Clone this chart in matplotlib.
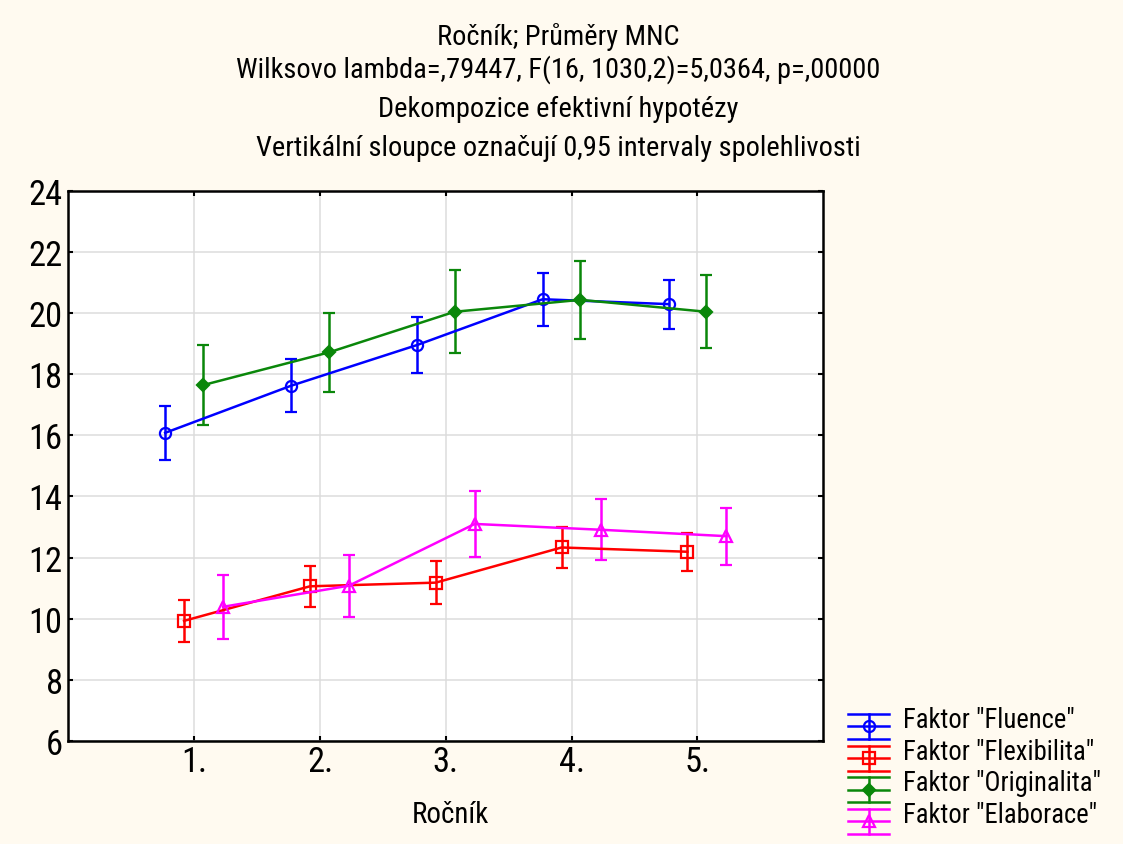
import matplotlib
matplotlib.use("Agg")
import matplotlib.pyplot as plt
from matplotlib import font_manager
from matplotlib.lines import Line2D
import numpy as np

# ---------------- data ----------------
years = [1, 2, 3, 4, 5]
year_labels = ["1.", "2.", "3.", "4.", "5."]

series_names = ['Faktor "Fluence"', 'Faktor "Flexibilita"',
                'Faktor "Originalita"', 'Faktor "Elaborace"']

fluence_mean = [16.08, 17.62, 18.95, 20.45, 20.29]
fluence_ci = [0.89, 0.87, 0.92, 0.86, 0.80]

flexibilita_mean = [9.93, 11.06, 11.18, 12.33, 12.19]
flexibilita_ci = [0.68, 0.67, 0.71, 0.67, 0.62]

originalita_mean = [17.64, 18.71, 20.04, 20.43, 20.04]
originalita_ci = [1.32, 1.28, 1.35, 1.27, 1.19]

elaborace_mean = [10.39, 11.08, 13.10, 12.91, 12.70]
elaborace_ci = [1.05, 1.02, 1.07, 1.00, 0.93]

title_lines = [
    "Ročník; Průměry MNC",
    "Wilksovo lambda=,79447, F(16, 1030,2)=5,0364, p=,00000",
    "Dekompozice efektivní hypotézy",
    "Vertikální sloupce označují 0,95 intervaly spolehlivosti",
]
x_label = "Ročník"
y_ticks = [6, 8, 10, 12, 14, 16, 18, 20, 22, 24]

# ---------------- font choice (narrowest available sans) ----------------
W, H, DPI = 1123, 845, 100
PX = DPI / 72.0


def find_font():
    fl = font_manager.fontManager.ttflist
    def regular(f):
        return str(f.weight).lower() in ("400", "normal", "regular", "book") and f.style == "normal"
    def cond(f):
        st = str(f.stretch).lower()
        return st in ("condensed", "semi-condensed") or (st.isdigit() and 300 <= int(st) < 500)
    for f in fl:
        if f.name == "Liberation Sans Narrow" and regular(f):
            return f.name, "normal"
    for f in fl:
        if f.name in ("Roboto Condensed", "Open Sans Condensed", "Noto Sans Condensed",
                      "DejaVu Sans Condensed") and regular(f):
            return f.name, "normal"
    for nm in ("DejaVu Sans", "Roboto", "Noto Sans", "Open Sans"):
        for f in fl:
            if f.name == nm and regular(f) and cond(f):
                return nm, str(f.stretch)
    return "Liberation Sans", "normal"


FONT, STRETCH = find_font()
plt.rcParams["font.family"] = [FONT, "DejaVu Sans"]
plt.rcParams["font.stretch"] = STRETCH

colors = ["#0000FF", "#FF0000", "#0A870A", "#FF00FF"]
markers = ["o", "s", "D", "^"]
mfcs = ["none", "none", "#0A870A", "none"]
msizes = [8, 8, 6, 8]
offsets = [-0.23, -0.08, 0.07, 0.23]

means = [fluence_mean, flexibilita_mean, originalita_mean, elaborace_mean]
cis = [fluence_ci, flexibilita_ci, originalita_ci, elaborace_ci]

fig = plt.figure(figsize=(W / DPI, H / DPI), dpi=DPI, facecolor="#FFFAF0")
renderer = fig.canvas.get_renderer()


def fit_size(texts, target_w, cap_h, w_weight=0.5):
    """font size (pt) trading off matching total width and cap height"""
    base = 20.0
    tot = 0.0
    for s in texts:
        t = fig.text(0, 0, s, fontsize=base)
        tot += t.get_window_extent(renderer).width
        t.remove()
    fw = base * target_w / tot
    fh = cap_h / (0.72 * PX)
    return fw ** w_weight * fh ** (1 - w_weight)


def fy(py):
    return 1 - py / H


def fx(px):
    return px / W


# ---------------- axes ----------------
L, R, T, B = 68.3, 823.3, 191.7, 742.0
ax = fig.add_axes([fx(L), fy(B), (R - L) / W, (B - T) / H])
ax.set_facecolor("white")

for m, c, col, mk, mfc, ms, off in zip(means, cis, colors, markers, mfcs, msizes, offsets):
    xs = np.array(years) + off
    ax.errorbar(xs, m, yerr=c, color=col, ecolor=col, marker=mk, mfc=mfc,
                mec=col, ms=ms, mew=1.6, lw=1.8, elinewidth=1.8, capsize=4.5,
                capthick=1.8, zorder=3)

ax.set_xlim(0, 6)
ax.set_ylim(6, 24)
ax.set_xticks(years)
ax.set_xticklabels(year_labels)
ax.set_yticks(y_ticks)
ax.grid(True, color="#DCDCDC", lw=1.1, zorder=0)
ax.set_axisbelow(True)

tick_fs = fit_size(["10", "12", "14", "16"], 4 * 30.0, 27.0, 0.4)
ax.tick_params(direction="in", length=3.5, width=1.5, top=True, right=True,
               labelsize=tick_fs)
ax.tick_params(axis="y", pad=4.0)
ax.tick_params(axis="x", pad=3.0)
for s in ax.spines.values():
    s.set_linewidth(1.8)
    s.set_color("black")

xl_fs = fit_size([x_label], 76.0, 21.0, 0.2)
ax.set_xlabel(x_label, fontsize=xl_fs)
ax.xaxis.set_label_coords((450 - L) / (R - L), -(823 - B) / (B - T))
ax.xaxis.label.set_va("baseline")

# ---------------- title lines ----------------
title_widths = [237, 626, 332, 549]
title_fs = fit_size(title_lines, sum(title_widths), 21.0, 0.3)
baselines = [45, 78, 117, 156]
for txt, b in zip(title_lines, baselines):
    fig.text(0.497, fy(b), txt, ha="center", va="baseline", fontsize=title_fs)

# ---------------- legend (drawn below the axes on the right) ----------------
leg_fs = fit_size(series_names, (1075 - 903) + (1078 - 903) + (1093 - 903) + (1097 - 903), 20.0, 0.55)
row0, drow = 728.0, 31.7
hx0, hx1 = 848.0, 889.0
hxc = (hx0 + hx1) / 2
for i, (name, col, mk, mfc, ms) in enumerate(zip(series_names, colors, markers, mfcs, msizes)):
    yb = row0 + i * drow
    for yy in (yb - 13, yb - 0.7, yb + 12):
        fig.add_artist(Line2D([fx(hx0), fx(hx1)], [fy(yy), fy(yy)], color=col, lw=1.8,
                              transform=fig.transFigure))
    fig.add_artist(Line2D([fx(hxc), fx(hxc)], [fy(yb - 13), fy(yb + 12)], color=col, lw=1.8,
                          transform=fig.transFigure))
    fig.add_artist(Line2D([fx(hxc)], [fy(yb - 0.7)], marker=mk, mfc=mfc, mec=col, ms=ms,
                          mew=1.6, ls="none", transform=fig.transFigure))
    fig.text(fx(903), fy(yb), name, ha="left", va="baseline", fontsize=leg_fs)

fig.savefig("out.png", dpi=DPI, facecolor=fig.get_facecolor())
